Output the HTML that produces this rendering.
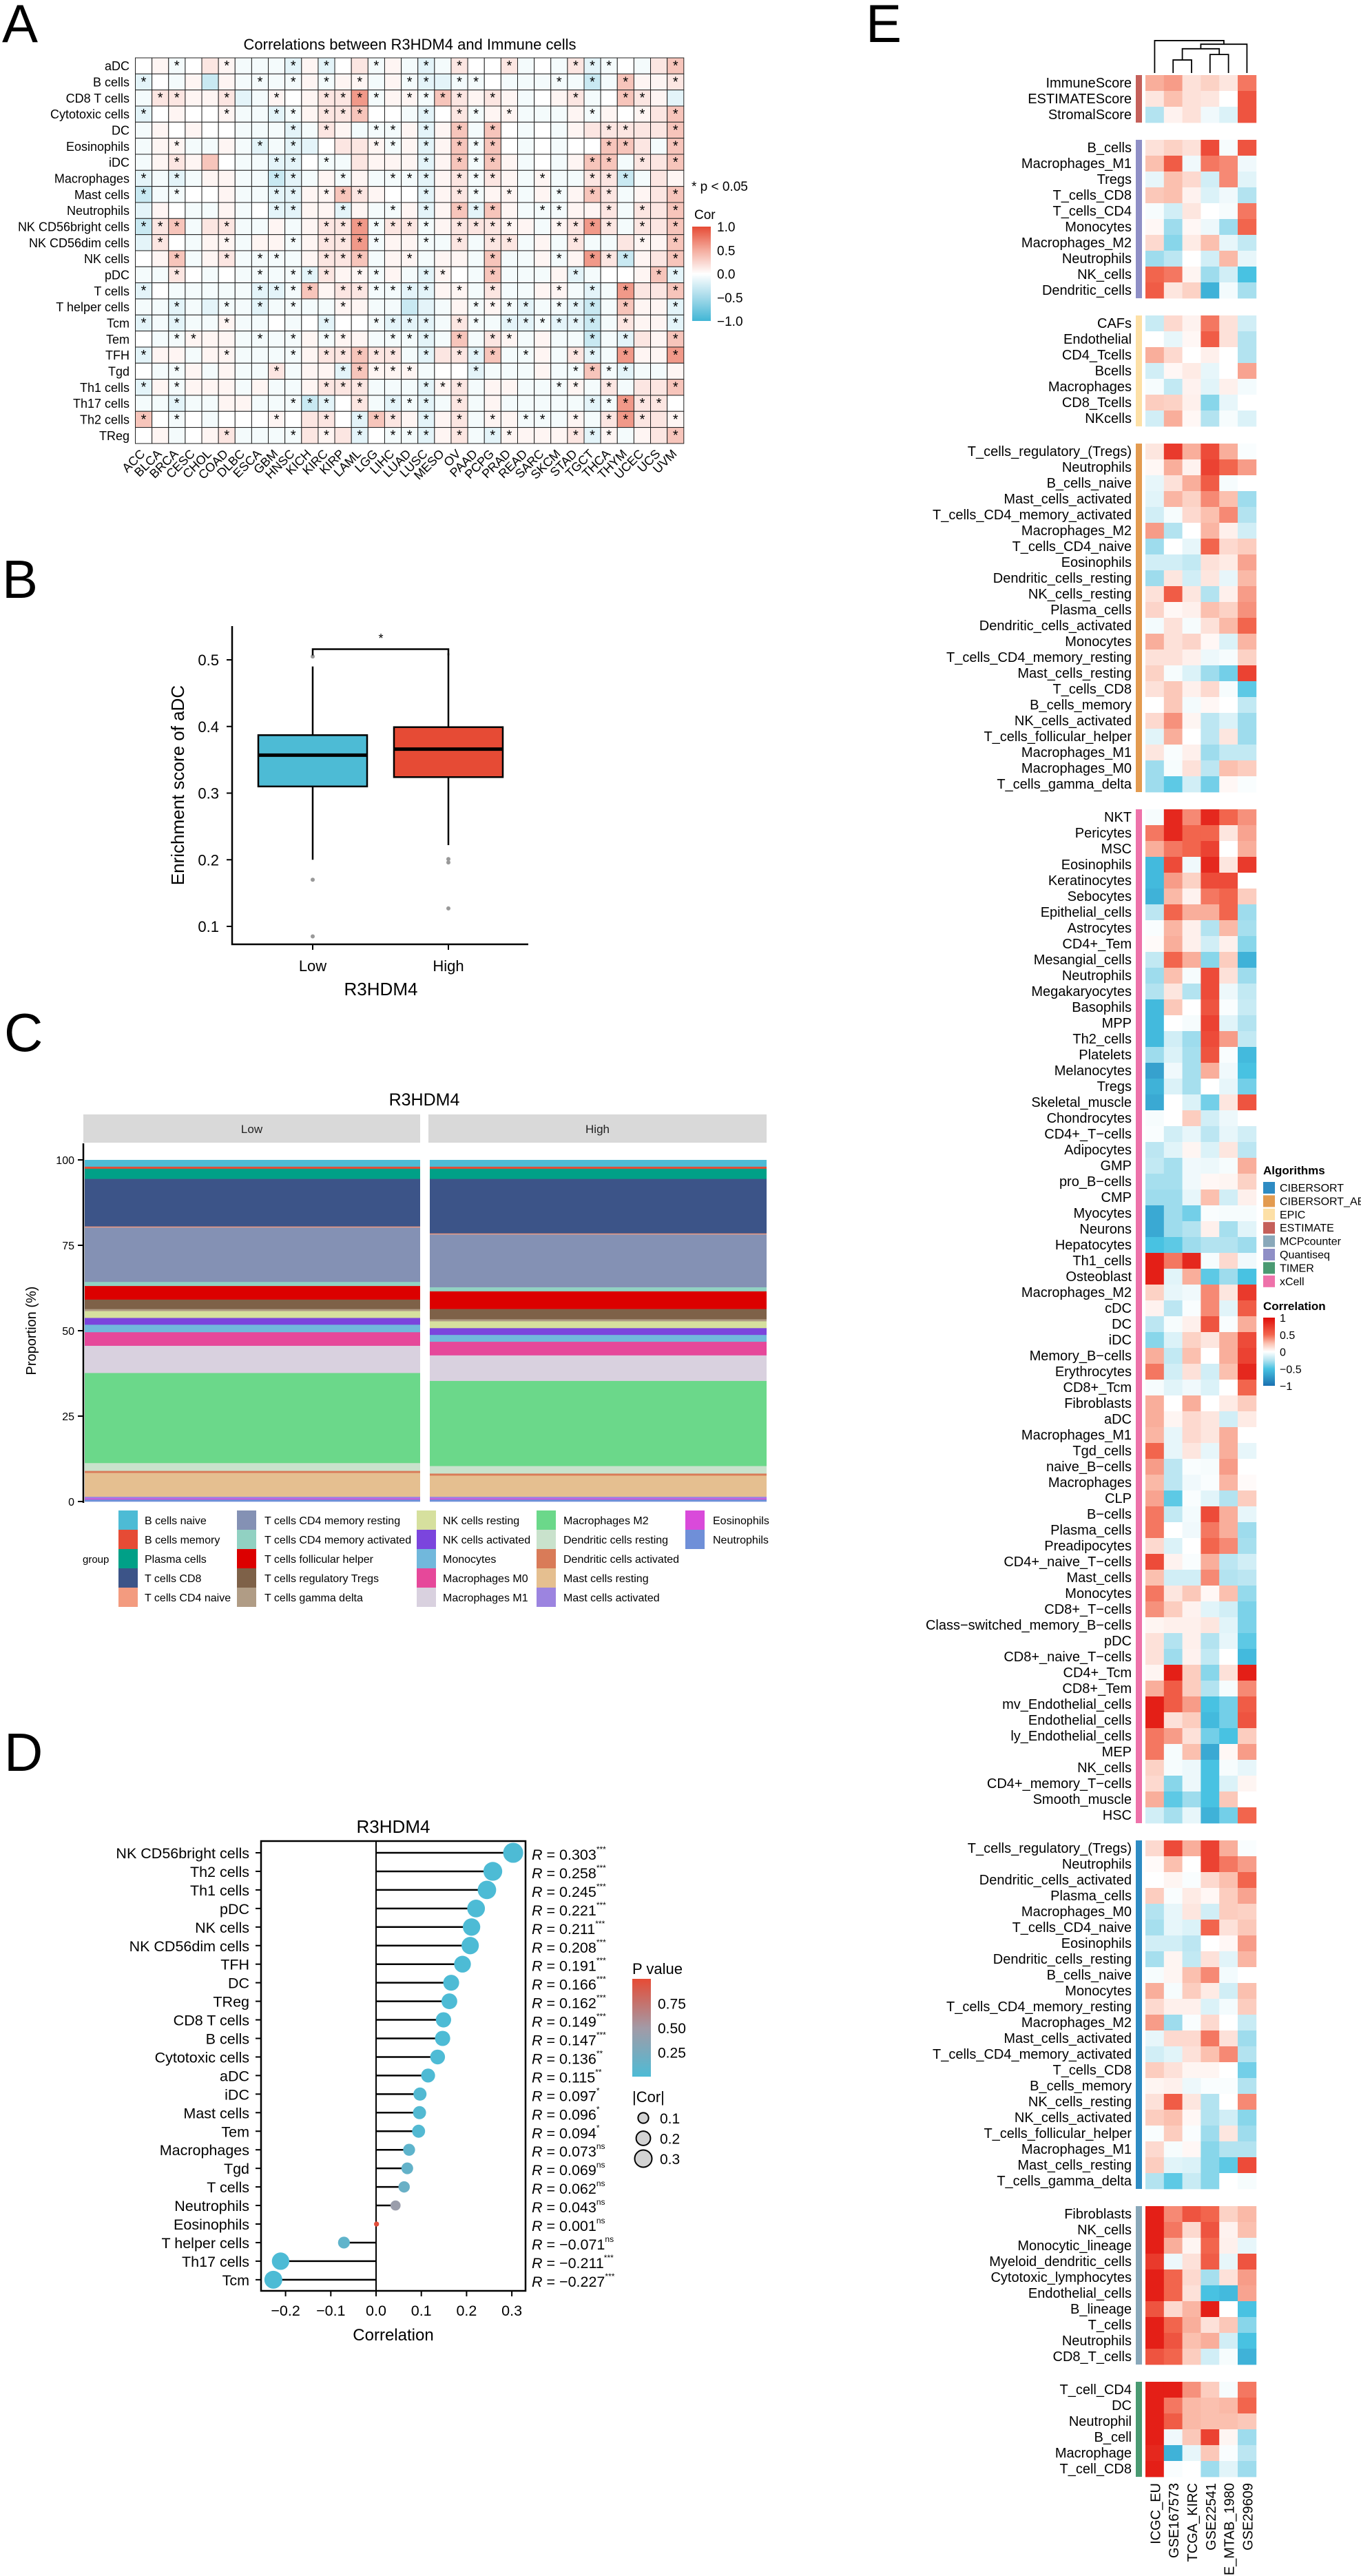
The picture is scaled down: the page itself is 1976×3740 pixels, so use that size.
<!DOCTYPE html>
<html><head><meta charset="utf-8"><style>
html,body{margin:0;padding:0;background:#fff}
svg{display:block;font-family:"Liberation Sans",Arial,sans-serif}
</style></head><body>
<svg id="fig" width="1976" height="3740" viewBox="0 0 1976 3740" xmlns="http://www.w3.org/2000/svg">
<rect x="0" y="0" width="1976" height="3740" fill="#fff"/>
<text x="3" y="61" font-size="78">A</text>
<text x="3" y="868" font-size="78">B</text>
<text x="6" y="1526" font-size="78">C</text>
<text x="6" y="2571" font-size="78">D</text>
<text x="1257" y="61" font-size="78">E</text>
<g id="pA"></g>
<g id="pB"></g>
<g id="pC"></g>
<g id="pD"></g>
<g id="pE"></g>
</svg>
<script>
// ---------- Panel A data ----------
const aCancers = ["ACC","BLCA","BRCA","CESC","CHOL","COAD","DLBC","ESCA","GBM","HNSC","KICH","KIRC","KIRP","LAML","LGG","LIHC","LUAD","LUSC","MESO","OV","PAAD","PCPG","PRAD","READ","SARC","SKCM","STAD","TGCT","THCA","THYM","UCEC","UCS","UVM"];
const aCells = ["aDC","B cells","CD8 T cells","Cytotoxic cells","DC","Eosinophils","iDC","Macrophages","Mast cells","Neutrophils","NK CD56bright cells","NK CD56dim cells","NK cells","pDC","T cells","T helper cells","Tcm","Tem","TFH","Tgd","Th1 cells","Th17 cells","Th2 cells","TReg"];
const aCodeValues = {R:0.6,r:0.35,p:0.15,q:0.06,"0":0,c:-0.06,b:-0.15,B:-0.3,D:-0.5};
const aCorCodes = [
"0qc0pqcccbqb0pcqcbcp00pc0cpbc0cpr","b0cqBqccccqcqqcqcbbcc0cccccBcrqqp","cppqqpbcq0qppRcqqcrpqpqc0qpc0rpqb","b0q00qccbcqppr00cb0pcqqcccqcq0qpr",
"cq0q00cccbcpqcccqbqrcr0c0cqpppppr","cqqccqcbcbb0ppqcqbqrcr0c0c00rrpcr","cqpqr0ccbb0ccpqqqbqrcrqc0cqrrcppr","bcbcqqccBbcqcqcccbqpcpqcqccppBcpq",
"Bcc00qccbbqqrpq00bqpcqqcqcqrpcqpr","bq0ccqc0bbqqbqccqbqrbrqcccqqpcppr","BprcppccqcqppRcppcqpppqqcqpRpcppr","bp0cqqcqqcqppRcqqccpcppcqcpccpqqr",
"0qrcqpccccqpprcqqcqqcrccqcqRpBqpr","ccp0c0ccccbpqqcqcbq0crcccqbc00qrb","b0cccccbbcrqppccbbqqcpccqqcbcRppr","ccbcbccbccccqqccBbcqcqcbccbBcrqqb",
"bcbccqcc0c0b00cbbbcpccbbcbbBcpqqb","0ccqqqccccqcqqcccbcrcpqcqccBcbpqr","bqqcqqccccqpprppcbppbrccqcpbcRqqR","0ccqcqccpcqqbrqqqc00bcccqccrcbccq",
"bqcqqqcqccqpppcccbqpcqqcccqcpcppr","ccbccqqcccBb0pcbcbcpcqcccccbcRpp0","r0c0c000q0pp0brpqbqpcqqcccqcpRppq","0qc0qpccccpqpb0ccbqpcbqqqqpbqcqpr"];
const aStars = [
[2,5,9,11,14,17,19,22,26,27,28,32],[0,7,9,11,13,16,17,19,20,25,27,29,32],[1,2,5,8,11,12,13,14,16,17,18,19,21,26,29,30],[0,5,8,9,11,12,13,17,19,20,22,27,30,32],
[9,11,14,15,17,19,21,28,29,32],[2,7,9,14,15,17,19,20,21,28,29,32],[2,8,9,11,17,19,20,21,27,28,30,32],[0,2,8,9,12,15,16,17,19,20,21,24,27,28,29],
[0,2,8,9,11,12,13,17,19,20,22,25,27,28,32],[8,9,12,15,17,19,20,21,24,25,28,30,32],[0,1,2,5,11,12,13,14,15,16,17,19,20,21,22,25,26,27,28,30,32],[1,5,9,11,12,13,14,17,19,21,22,26,30,32],
[2,5,7,8,11,12,13,16,21,25,27,28,29,32],[2,7,9,10,11,13,14,17,18,21,26,31,32],[0,7,8,9,10,12,13,14,15,16,17,19,21,25,27,29,32],[2,5,7,9,12,20,21,22,23,25,26,27,29,32],
[0,2,5,11,14,15,16,17,19,20,22,23,24,25,26,27,29,32],[2,3,7,9,11,12,15,16,17,19,21,22,27,29,32],[0,5,9,11,12,13,14,15,17,19,20,21,23,26,27,29,32],[2,8,12,13,14,15,16,20,26,27,28,29],
[0,2,11,12,13,17,18,19,25,26,28,32],[2,9,10,11,13,15,16,17,19,27,28,29,30,31],[0,2,8,11,13,14,15,17,19,21,23,24,26,28,29,30,32],[5,9,11,13,15,16,17,19,21,22,26,27,28,32]];
const aLegendTicks = [1.0,0.5,0.0,-0.5,-1.0];

// ---------- Panel B data ----------
const bGroups = ["Low","High"];
const bQ1 = [0.310,0.324];
const bMedian = [0.357,0.366];
const bQ3 = [0.387,0.399];
const bWhiskLo = [0.200,0.222];
const bWhiskHi = [0.490,0.510];
const bOutliers = [[0.505,0.170,0.085],[0.201,0.196,0.127]];
const bFills = ["#4DBBD5","#E64B35"];
const bYTicks = [0.1,0.2,0.3,0.4,0.5];

// ---------- Panel C data ----------
const cTypes = ["B cells naive","B cells memory","Plasma cells","T cells CD8","T cells CD4 naive","T cells CD4 memory resting","T cells CD4 memory activated","T cells follicular helper","T cells regulatory Tregs","T cells gamma delta","NK cells resting","NK cells activated","Monocytes","Macrophages M0","Macrophages M1","Macrophages M2","Dendritic cells resting","Dendritic cells activated","Mast cells resting","Mast cells activated","Eosinophils","Neutrophils"];
const cColors = ["#4DBBD5","#E64B35","#00A087","#3C5488","#F39B7F","#8491B4","#91D1C2","#DC0000","#7E6148","#B09C85","#D6E09E","#7B45DD","#71B8DC","#E6489A","#D9D1DF","#6BD88A","#C9E2CC","#D97B58","#E5BF90","#9C84E0","#D94ADA","#6F8FD8"];
const cLow =  [2.0,0.6,3.0,14.0,0.3,16.0,1.2,4.0,2.8,0.6,2.0,2.0,2.2,4.0,8.0,26.5,2.3,0.6,7.0,0.5,0.3,0.6];
const cHigh = [2.0,0.6,3.0,16.0,0.3,15.5,1.2,5.2,3.0,0.6,2.0,2.0,2.0,4.0,7.5,25.0,2.2,0.6,6.2,0.5,0.3,0.6];
const cYTicks = [0,25,50,75,100];

// ---------- Panel D data ----------
const dCells = ["NK CD56bright cells","Th2 cells","Th1 cells","pDC","NK cells","NK CD56dim cells","TFH","DC","TReg","CD8 T cells","B cells","Cytotoxic cells","aDC","iDC","Mast cells","Tem","Macrophages","Tgd","T cells","Neutrophils","Eosinophils","T helper cells","Th17 cells","Tcm"];
const dCor = [0.303,0.258,0.245,0.221,0.211,0.208,0.191,0.166,0.162,0.149,0.147,0.136,0.115,0.097,0.096,0.094,0.073,0.069,0.062,0.043,0.001,-0.071,-0.211,-0.227];
const dPval = [0.0001,0.0001,0.0001,0.0001,0.0001,0.0001,0.0001,0.0002,0.0003,0.0006,0.0007,0.003,0.008,0.03,0.03,0.035,0.10,0.13,0.16,0.45,0.98,0.11,0.0001,0.0001];
const dSig = ["***","***","***","***","***","***","***","***","***","***","***","**","**","*","*","*","ns","ns","ns","ns","ns","ns","***","***"];
const dXTicks = [-0.2,-0.1,0.0,0.1,0.2,0.3];
const dPTicks = [0.25,0.50,0.75];
const dSizeTicks = [0.1,0.2,0.3];

// ---------- Panel E data ----------
const eColumns = ["ICGC_EU","GSE167573","TCGA_KIRC","GSE22541","E_MTAB_1980","GSE29609"];
const eGroupAlgo = ["ESTIMATE","Quantiseq","EPIC","CIBERSORT_ABS","xCell","CIBERSORT","MCPcounter","TIMER"];
const eAlgoNames = ["CIBERSORT","CIBERSORT_ABS","EPIC","ESTIMATE","MCPcounter","Quantiseq","TIMER","xCell"];
const eAlgoColors = ["#2E8BC3","#E39B50","#FDE0A6","#C5605A","#89A8BA","#8F8FC6","#4A9A72","#EE72AA"];
const eCorTicks = [1,0.5,0,-0.5,-1];
const estimateRows = ["ImmuneScore","ESTIMATEScore","StromalScore"];
const estimateVals = [[.3,.35,.12,.18,.1,.45],[.1,.25,.12,.1,0,.6],[-.25,.05,.12,-.05,-.12,.6]];
const quantiseqRows = ["B_cells","Macrophages_M1","Tregs","T_cells_CD8","T_cells_CD4","Monocytes","Macrophages_M2","Neutrophils","NK_cells","Dendritic_cells"];
const quantiseqVals = [[.12,.18,.12,.65,-.03,.6],[.25,.55,-.05,.45,.4,-.05],[-.08,.25,.15,-.15,.4,-.1],[.22,.25,.05,-.12,-.05,-.25],[-.03,-.15,.1,0,-.03,.45],[.03,-.3,.03,-.06,-.3,.5],[.15,-.35,.08,.25,-.08,-.2],[-.3,-.22,0,-.15,.27,-.08],[.5,.45,.04,-.3,-.15,-.5],[.55,.1,.18,-.6,-.04,-.28]];
const epicRows = ["CAFs","Endothelial","CD4_Tcells","Bcells","Macrophages","CD8_Tcells","NKcells"];
const epicVals = [[-.18,.15,.05,.45,.12,-.15],[0,-.08,.03,.55,.12,-.25],[.3,.15,0,.06,0,-.25],[-.15,.03,.08,-.08,0,.33],[-.03,-.2,.05,-.1,.06,-.04],[.2,.18,.06,-.35,-.08,0],[-.15,.3,.03,-.25,-.03,-.12]];
const ciberAbsRows = ["T_cells_regulatory_(Tregs)","Neutrophils","B_cells_naive","Mast_cells_activated","T_cells_CD4_memory_activated","Macrophages_M2","T_cells_CD4_naive","Eosinophils","Dendritic_cells_resting","NK_cells_resting","Plasma_cells","Dendritic_cells_activated","Monocytes","T_cells_CD4_memory_resting","Mast_cells_resting","T_cells_CD8","B_cells_memory","NK_cells_activated","T_cells_follicular_helper","Macrophages_M1","Macrophages_M0","T_cells_gamma_delta"];
const ciberAbsVals = [[.1,.75,.3,.65,.3,-.02],[.03,.3,.05,.7,.5,.35],[-.08,.12,.3,.55,-.03,0],[-.1,.28,.18,.4,.25,-.3],[-.15,-.03,.15,.25,.4,-.25],[.35,-.25,0,.28,.06,-.15],[-.3,0,-.08,.5,.15,.2],[-.15,-.15,-.2,.12,.08,.33],[-.3,.1,-.15,.1,-.08,.27],[.12,.55,.1,-.25,.06,.35],[.17,.03,.06,.25,.18,.38],[-.04,.12,-.03,.12,.27,.5],[.3,.12,.17,.03,-.12,.28],[.12,.12,.06,-.06,-.03,.18],[.18,-.03,-.12,-.3,-.4,.7],[.12,.22,.06,.15,-.03,-.45],[0,.22,-.04,.03,0,-.2],[.15,.38,.04,-.22,-.12,-.3],[-.1,.3,0,-.22,.1,-.3],[.1,-.02,.06,-.3,-.2,-.2],[-.3,-.03,.12,-.22,.25,.2],[-.3,-.45,-.15,-.4,.03,-.02]];
const xcellRows = ["NKT","Pericytes","MSC","Eosinophils","Keratinocytes","Sebocytes","Epithelial_cells","Astrocytes","CD4+_Tem","Mesangial_cells","Neutrophils","Megakaryocytes","Basophils","MPP","Th2_cells","Platelets","Melanocytes","Tregs","Skeletal_muscle","Chondrocytes","CD4+_T\u2212cells","Adipocytes","GMP","pro_B\u2212cells","CMP","Myocytes","Neurons","Hepatocytes","Th1_cells","Osteoblast","Macrophages_M2","cDC","DC","iDC","Memory_B\u2212cells","Erythrocytes","CD8+_Tcm","Fibroblasts","aDC","Macrophages_M1","Tgd_cells","naive_B\u2212cells","Macrophages","CLP","B\u2212cells","Plasma_cells","Preadipocytes","CD4+_naive_T\u2212cells","Mast_cells","Monocytes","CD8+_T\u2212cells","Class\u2212switched_memory_B\u2212cells","pDC","CD8+_naive_T\u2212cells","CD4+_Tcm","CD8+_Tem","mv_Endothelial_cells","Endothelial_cells","ly_Endothelial_cells","MEP","NK_cells","CD4+_memory_T\u2212cells","Smooth_muscle","HSC"];
const xcellVals = [[-.03,.85,.4,.85,.5,.38],[.45,.85,.5,.5,.1,.33],[.3,.45,.5,.7,0,.3],[-.55,.65,-.05,.85,.1,.75],[-.55,.35,.18,.65,.65,0],[-.6,.27,.05,.45,.5,.2],[-.22,.5,.3,.3,.5,-.3],[-.02,.28,.06,-.25,.27,-.28],[.02,.3,.06,-.15,.06,-.35],[-.2,.5,.3,-.35,.2,-.6],[-.3,.25,-.03,.65,.12,-.3],[-.25,.1,-.25,.65,-.06,-.2],[-.55,.22,0,.6,-.02,-.18],[-.55,0,-.03,.7,-.1,-.25],[-.55,-.15,-.3,.65,.35,-.2],[-.3,-.12,-.28,.6,-.02,-.55],[-.7,-.05,-.28,.3,-.05,-.5],[-.6,-.12,-.28,0,-.08,-.4],[-.65,0,-.12,-.4,.1,.6],[-.03,0,.2,-.15,-.06,0],[-.02,-.15,-.08,-.22,-.08,-.15],[-.22,-.1,.04,-.12,.1,-.22],[-.2,-.28,-.05,-.06,-.03,.3],[-.28,-.28,-.05,.03,.04,.18],[-.3,-.3,-.08,.25,-.15,.06],[-.65,-.3,-.4,-.02,-.03,-.03],[-.65,-.3,-.25,.06,-.28,-.1],[-.5,-.45,-.3,-.25,-.25,-.3],[.9,.45,.85,-.03,.15,-.05],[.9,-.1,.3,-.45,-.3,-.5],[.18,-.08,-.05,.4,.1,.75],[.05,-.22,-.02,.4,-.1,.55],[-.22,-.03,.06,.6,-.02,.3],[-.35,-.12,.18,.1,.3,.65],[.3,-.2,.25,0,.3,.7],[.45,-.15,.12,-.15,.25,.85],[-.03,-.1,-.05,-.12,0,.5],[.3,0,.3,0,.08,.2],[.3,.04,.15,.1,-.15,.08],[.28,-.08,.15,.1,.3,0],[.5,-.08,.1,-.08,.3,-.08],[.35,-.22,-.02,-.03,.35,0],[.27,-.22,-.05,-.02,.28,.02],[.33,-.45,-.02,-.1,-.25,.2],[.45,-.2,-.04,.65,.3,-.08],[.45,0,-.05,.45,.3,-.3],[.15,-.12,0,.5,.4,-.28],[.65,.05,-.02,.3,-.22,-.15],[.25,-.15,-.15,.4,-.25,-.22],[.45,.1,.22,.03,.25,-.32],[.38,.2,.05,-.1,-.15,-.38],[.04,.06,.06,.1,-.1,-.38],[.12,-.25,.06,-.25,-.08,-.45],[.12,-.3,.05,-.2,0,-.55],[.04,.9,.2,-.35,.12,.9],[.3,.55,.2,-.25,-.03,.4],[.9,.55,.35,-.5,-.4,.55],[.9,.12,.2,-.55,-.4,.6],[.45,.35,.12,-.4,-.5,.2],[.45,-.03,.25,-.65,.03,.35],[.18,-.03,-.06,-.5,-.03,-.08],[.15,-.35,-.06,-.5,-.12,.04],[.3,-.45,-.3,-.5,.22,0],[-.15,-.28,-.08,-.6,-.4,.5]];
const ciberRows = ["T_cells_regulatory_(Tregs)","Neutrophils","Dendritic_cells_activated","Plasma_cells","Macrophages_M0","T_cells_CD4_naive","Eosinophils","Dendritic_cells_resting","B_cells_naive","Monocytes","T_cells_CD4_memory_resting","Macrophages_M2","Mast_cells_activated","T_cells_CD4_memory_activated","T_cells_CD8","B_cells_memory","NK_cells_resting","NK_cells_activated","T_cells_follicular_helper","Macrophages_M1","Mast_cells_resting","T_cells_gamma_delta"];
const ciberVals = [[.15,.65,.3,.7,.3,-.02],[.02,.25,0,.7,.45,.35],[0,.04,-.02,.15,.25,.5],[.2,-.02,.08,.03,.2,.33],[-.25,-.08,.1,-.15,.2,.18],[-.28,-.08,-.12,.5,.12,.22],[-.15,-.15,-.22,0,.03,.35],[-.28,.04,-.2,.12,-.1,.28],[-.03,.04,.25,.4,-.04,0],[.3,-.03,.2,.08,-.15,.25],[.15,.06,.06,-.12,-.04,.2],[.35,-.3,-.02,.15,0,-.18],[-.08,.15,.15,.45,.12,-.3],[-.15,-.1,.12,.25,.4,-.25],[.2,.12,.04,.04,0,-.4],[.04,.06,-.06,-.02,-.02,-.25],[.12,.55,.1,-.25,0,.4],[.2,.25,.03,-.25,-.15,-.35],[-.02,.2,-.02,-.3,.1,-.3],[.15,-.03,.03,-.35,-.25,-.25],[.2,-.1,-.12,-.35,-.45,.65],[-.25,-.45,-.18,-.35,0,-.03]];
const mcpRows = ["Fibroblasts","NK_cells","Monocytic_lineage","Myeloid_dendritic_cells","Cytotoxic_lymphocytes","Endothelial_cells","B_lineage","T_cells","Neutrophils","CD8_T_cells"];
const mcpVals = [[.9,.4,.6,.5,.18,.27],[.9,.45,.15,.6,.05,.25],[.9,.3,.04,.5,.06,-.08],[.75,-.06,.12,.55,-.08,.6],[.9,.5,.15,-.28,.12,.35],[.9,.5,.12,-.5,-.55,.33],[.6,.15,.28,.9,0,-.5],[.9,.5,.3,.12,.22,-.35],[.9,.6,.25,.3,-.15,-.5],[.6,.5,.2,-.15,-.03,-.6]];
const timerRows = ["T_cell_CD4","DC","Neutrophil","B_cell","Macrophage","T_cell_CD8"];
const timerVals = [[.9,.9,.38,.2,-.03,.45],[.9,.45,.27,.25,.27,.5],[.9,.55,.27,.25,.25,.22],[.9,-.05,.22,.7,.04,-.3],[.85,-.6,-.08,.22,-.02,-.22],[.9,-.02,0,-.3,-.1,-.3]];
const eDendroMerges = [[1,2,0.43],[3,4,0.61],[6,7,0.80],[8,5,0.95],[0,9,1.07]];

// ---------- helpers ----------
const svg = document.getElementById('fig');
const SNS = svg.namespaceURI;
function mk(tag, attrs, parent, text){
  const e = document.createElementNS(SNS, tag);
  for (const k in attrs) e.setAttribute(k, attrs[k]);
  if (text !== undefined) e.textContent = text;
  parent.appendChild(e);
  return e;
}
function hex2rgb(h){return [parseInt(h.slice(1,3),16),parseInt(h.slice(3,5),16),parseInt(h.slice(5,7),16)];}
function scaleColor(v, stops){
  if (v <= stops[0][0]) return stops[0][1];
  for (let i=1;i<stops.length;i++){
    if (v <= stops[i][0]){
      const t=(v-stops[i-1][0])/(stops[i][0]-stops[i-1][0]);
      const a=hex2rgb(stops[i-1][1]), b=hex2rgb(stops[i][1]);
      return 'rgb('+a.map((x,j)=>Math.round(x+(b[j]-x)*t)).join(',')+')';
    }
  }
  return stops[stops.length-1][1];
}
const aStops = [[-1,"#41B6D5"],[-0.5,"#A5DAEA"],[0,"#FFFFFF"],[0.5,"#F4AC9E"],[1,"#E64B35"]];
const eStops = [[-1,"#1A70B0"],[-0.5,"#48C2E2"],[-0.25,"#B3E3F0"],[0,"#FFFFFF"],[0.25,"#FBC0AF"],[0.5,"#F2654D"],[1,"#E00E0A"]];
const pStops = [[0,"#4DBBD5"],[0.5,"#A39AA6"],[1,"#E64B35"]];

// ================= Panel A =================
(function(){
  const g = document.getElementById('pA');
  const x0=196.5, y0=84, cw=24.13, ch=23.33;
  const xA = i => x0 + i*cw;
  const yA = j => y0 + j*ch;
  const t = mk('text',{x:595,y:72,'font-size':22,'text-anchor':'middle'},g,'Correlations between R3HDM4 and Immune cells');
  
  
  aCells.forEach((cell,j)=>{
    const codes = aCorCodes[j];
    aCancers.forEach((can,i)=>{
      const v = aCodeValues[codes[i]] || 0;
      const r = mk('rect',{x:xA(i),y:yA(j),width:cw,height:ch,fill:scaleColor(v,aStops),stroke:'#222','stroke-width':1},g);
      
      
    });
    aStars[j].forEach(i=>{
      const s = mk('text',{x:xA(i)+cw/2,y:yA(j)+18,'font-size':20,'text-anchor':'middle'},g,'*');
      
      
    });
    const lb = mk('text',{x:188,y:yA(j)+ch/2+6.5,'font-size':18,'text-anchor':'end'},g,cell);
    
    
  });
  aCancers.forEach((can,i)=>{
    const cx = xA(i)+cw/2+3, cy=660;
    const lb = mk('text',{x:cx,y:cy,'font-size':18,'text-anchor':'end',transform:'rotate(-45 '+cx+' '+cy+')'},g,can);
    
    
  });
  const p = mk('text',{x:1004,y:277,'font-size':19},g,'* p < 0.05');
  
  
  const lt = mk('text',{x:1008,y:318,'font-size':19},g,'Cor');
  
  
  const defs = mk('defs',{},g);
  const lg = mk('linearGradient',{id:'aGrad',x1:0,y1:0,x2:0,y2:1},defs);
  aLegendTicks.forEach((v,k)=>{ mk('stop',{offset:(k/(aLegendTicks.length-1)),'stop-color':scaleColor(v,aStops)},lg); });
  const lbTop=329, lbBot=466;
  const yL = v => lbTop + (1-v)/2*(lbBot-lbTop);
  const bar = mk('rect',{x:1005,y:lbTop,width:27,height:lbBot-lbTop,fill:'url(#aGrad)'},g);
  
  
  aLegendTicks.forEach(v=>{
    const tx = mk('text',{x:1041,y:yL(v)+7,'font-size':19},g,(v<0?'\u2212':'')+Math.abs(v).toFixed(1));
    
    
  });
})();

// ================= Panel B =================
(function(){
  const g = document.getElementById('pB');
  const L=337, R=767, T=909, B=1371;
  const yB = v => 958 + (0.5 - v)*967.5;
  const xB = [454,651];
  const hw = 79;
  const ax = mk('path',{d:'M'+L+' '+T+' V'+B+' H'+R,fill:'none',stroke:'#000','stroke-width':2.5},g);
  
  
  bYTicks.forEach(v=>{
    const tk = mk('line',{x1:L-8,x2:L,y1:yB(v),y2:yB(v),stroke:'#000','stroke-width':2},g);
    
    
    const tl = mk('text',{x:318,y:yB(v)+8,'font-size':22,'text-anchor':'end'},g,v.toFixed(1));
    
    
  });
  bGroups.forEach((gr,i)=>{
    const cx = xB[i];
    const w = mk('line',{x1:cx,x2:cx,y1:yB(bWhiskHi[i]),y2:yB(bWhiskLo[i]),stroke:'#000','stroke-width':2.5},g);
    
    
    const bx = mk('rect',{x:cx-hw,y:yB(bQ3[i]),width:2*hw,height:yB(bQ1[i])-yB(bQ3[i]),fill:bFills[i],stroke:'#000','stroke-width':2.5},g);
    
    
    const md = mk('line',{x1:cx-hw,x2:cx+hw,y1:yB(bMedian[i]),y2:yB(bMedian[i]),stroke:'#000','stroke-width':5},g);
    
    
    bOutliers[i].forEach(o=>{
      const c = mk('circle',{cx:cx,cy:yB(o),r:3,fill:'#999'},g);
      
      
    });
    const tk = mk('line',{x1:cx,x2:cx,y1:B,y2:B+8,stroke:'#000','stroke-width':2},g);
    
    
    const tl = mk('text',{x:cx,y:1410,'font-size':22,'text-anchor':'middle'},g,gr);
    
    
  });
  const br = mk('path',{d:'M'+xB[0]+' '+(yB(0.516)+9)+' V'+yB(0.516)+' H'+xB[1]+' V'+(yB(0.516)+9),fill:'none',stroke:'#000','stroke-width':2.5},g);
  
  
  const st = mk('text',{x:553,y:933,'font-size':18,'text-anchor':'middle'},g,'*');
  
  
  const xt = mk('text',{x:553,y:1445,'font-size':26,'text-anchor':'middle'},g,'R3HDM4');
  
  
  const yt = mk('text',{x:267,y:1140,'font-size':26,'text-anchor':'middle',transform:'rotate(-90 267 1140)'},g,'Enrichment score of aDC');
  
  
})();

// ================= Panel C =================
(function(){
  const g = document.getElementById('pC');
  const yC = v => 2180 - v*4.96;
  const panels = [{name:'Low',x0:121,x1:610,vals:cLow},{name:'High',x0:622,x1:1113,vals:cHigh}];
  const tt = mk('text',{x:616,y:1605,'font-size':25,'text-anchor':'middle'},g,'R3HDM4');
  
  
  panels.forEach(p=>{
    const sr = mk('rect',{x:p.x0,y:1618,width:p.x1-p.x0,height:41,fill:'#D9D9D9'},g);
    
    
    const sl = mk('text',{x:(p.x0+p.x1)/2,y:1645,'font-size':17,'text-anchor':'middle',fill:'#222'},g,p.name);
    
    
    const total = p.vals.reduce((a,b)=>a+b,0);
    let cum = 100;
    p.vals.forEach((v,k)=>{
      const h = v/total*100;
      const r = mk('rect',{x:p.x0+2,y:yC(cum),width:p.x1-p.x0-2,height:yC(cum-h)-yC(cum)+0.3,fill:cColors[k]},g);
      
      
      cum -= h;
    });
  });
  const ax = mk('line',{x1:121,x2:121,y1:1660,y2:2182,stroke:'#000','stroke-width':2.5},g);
  
  
  cYTicks.forEach(v=>{
    const tk = mk('line',{x1:113,x2:121,y1:yC(v),y2:yC(v),stroke:'#000','stroke-width':2},g);
    
    
    const tl = mk('text',{x:108,y:yC(v)+6,'font-size':16,'text-anchor':'end'},g,String(v));
    
    
  });
  const yt = mk('text',{x:52,y:1932,'font-size':20,'text-anchor':'middle',transform:'rotate(-90 52 1932)'},g,'Proportion (%)');
  
  
  const gl = mk('text',{x:120,y:2269,'font-size':15},g,'group');
  
  
  const bxX=[172,344,605,779,995], txX=[210,384,643,818,1035];
  cTypes.forEach((name,k)=>{
    const col = Math.floor(k/5), row = k%5;
    const y = 2193 + row*28;
    const b = mk('rect',{x:bxX[col],y:y,width:28,height:28,fill:cColors[k]},g);
    
    
    const t = mk('text',{x:txX[col],y:y+20,'font-size':16},g,name);
    
    
  });
})();

// ================= Panel D =================
(function(){
  const g = document.getElementById('pD');
  const L=379, R=763, T=2673, B=3326;
  const xD = v => 546 + v*657;
  const yD = i => 2690 + i*26.95;
  const rD = c => 3 + 21*Math.sqrt(Math.abs(c));
  const tt = mk('text',{x:571,y:2661,'font-size':26,'text-anchor':'middle'},g,'R3HDM4');
  
  
  const bx = mk('rect',{x:L,y:T,width:R-L,height:B-T,fill:'none',stroke:'#000','stroke-width':2.5},g);
  
  
  const zl = mk('line',{x1:xD(0),x2:xD(0),y1:T,y2:B,stroke:'#000','stroke-width':2},g);
  
  
  dCells.forEach((c,i)=>{
    const y = yD(i);
    const sg = mk('line',{x1:xD(0),x2:xD(dCor[i]),y1:y,y2:y,stroke:'#000','stroke-width':2.5},g);
    
    
    const dot = mk('circle',{cx:xD(dCor[i]),cy:y,r:rD(dCor[i]),fill:scaleColor(dPval[i],pStops)},g);
    
    
    const tk = mk('line',{x1:L-8,x2:L,y1:y,y2:y,stroke:'#000','stroke-width':2},g);
    
    
    const lb = mk('text',{x:362,y:y+8,'font-size':21.5,'text-anchor':'end'},g,c);
    
    
    const rt = mk('text',{x:772,y:y+10,'font-size':21.5},g);
    
    
    mk('tspan',{'font-style':'italic'},rt,'R');
    mk('tspan',{},rt,' = '+(dCor[i]<0?'\u2212':'')+Math.abs(dCor[i]).toFixed(3));
    mk('tspan',{'font-size':12,dy:-11},rt,dSig[i]);
  });
  dXTicks.forEach(v=>{
    const tk = mk('line',{x1:xD(v),x2:xD(v),y1:B,y2:B+8,stroke:'#000','stroke-width':2},g);
    
    
    const tl = mk('text',{x:xD(v),y:3362,'font-size':21.5,'text-anchor':'middle'},g,(v<0?'\u2212':'')+Math.abs(v).toFixed(1));
    
    
  });
  const xt = mk('text',{x:571,y:3398,'font-size':24,'text-anchor':'middle'},g,'Correlation');
  
  
  // legends
  const pt = mk('text',{x:918,y:2866,'font-size':22},g,'P value');
  
  
  const defs = mk('defs',{},g);
  const lg = mk('linearGradient',{id:'pGrad',x1:0,y1:0,x2:0,y2:1},defs);
  mk('stop',{offset:0,'stop-color':scaleColor(1,pStops)},lg);
  mk('stop',{offset:0.5,'stop-color':scaleColor(0.5,pStops)},lg);
  mk('stop',{offset:1,'stop-color':scaleColor(0,pStops)},lg);
  const pY = p => 3015 - p*142;
  const cb = mk('rect',{x:918,y:pY(1),width:27,height:142,fill:'url(#pGrad)'},g);
  
  
  dPTicks.forEach(p=>{
    const tl = mk('text',{x:955,y:pY(p)+8,'font-size':21},g,p.toFixed(2));
    
    
  });
  const ct = mk('text',{x:918,y:3052,'font-size':22},g,'|Cor|');
  
  
  dSizeTicks.forEach((s,k)=>{
    const y = 3075 + k*29.5;
    const c = mk('circle',{cx:934,cy:y,r:rD(s)-2,fill:'#D3D3D3',stroke:'#000','stroke-width':2},g);
    
    
    const tl = mk('text',{x:958,y:y+8,'font-size':21},g,s.toFixed(1));
    
    
  });
})();

// ================= Panel E =================
(function(){
  const g = document.getElementById('pE');
  const groups = [[estimateRows,estimateVals],[quantiseqRows,quantiseqVals],[epicRows,epicVals],[ciberAbsRows,ciberAbsVals],[xcellRows,xcellVals],[ciberRows,ciberVals],[mcpRows,mcpVals],[timerRows,timerVals]];
  const x0=1663, cw=26.8, rh=23, gap=25;
  const xE = i => x0 + i*cw;
  let y = 109;
  groups.forEach((gr,gi)=>{
    const rows = gr[0], vals = gr[1];
    const col = eAlgoColors[eAlgoNames.indexOf(eGroupAlgo[gi])];
    const ab = mk('rect',{x:1649,y:y,width:9,height:rows.length*rh,fill:col},g);
    
    
    rows.forEach((name,r)=>{
      const yy = y + r*rh;
      vals[r].forEach((v,c)=>{
        const cell = mk('rect',{x:xE(c),y:yy,width:cw+0.4,height:rh+0.4,fill:scaleColor(v,eStops)},g);
        
        
      });
      const lb = mk('text',{x:1643,y:yy+18,'font-size':20,'text-anchor':'end'},g,name);
      
      
    });
    y += rows.length*rh + gap;
  });
  eColumns.forEach((c,i)=>{
    const cx = xE(i)+cw/2+8, cy=3605;
    const lb = mk('text',{x:cx,y:cy,'font-size':20,'text-anchor':'end',transform:'rotate(-90 '+cx+' '+cy+')'},g,c);
    
    
  });
  // dendrogram
  const nodeX = eColumns.map((c,i)=>xE(i)+cw/2);
  const nodeY = eColumns.map(()=>106);
  const dY = h => 106 - h*44;
  eDendroMerges.forEach(m=>{
    const a=m[0], b=m[1], hy=dY(m[2]);
    const p = mk('path',{d:'M'+nodeX[a]+' '+nodeY[a]+' V'+hy+' H'+nodeX[b]+' V'+nodeY[b],fill:'none',stroke:'#000','stroke-width':1.8},g);
    
    
    nodeX.push((nodeX[a]+nodeX[b])/2);
    nodeY.push(hy);
  });
  // legends
  const at = mk('text',{x:1834,y:1705,'font-size':17,'font-weight':'bold'},g,'Algorithms');
  
  
  eAlgoNames.forEach((n,k)=>{
    const yy = 1716 + k*19.4;
    const b = mk('rect',{x:1834,y:yy,width:17,height:17,fill:eAlgoColors[k]},g);
    
    
    const t = mk('text',{x:1858,y:yy+14,'font-size':16},g,n);
    
    
  });
  const ctt = mk('text',{x:1834,y:1902,'font-size':17,'font-weight':'bold'},g,'Correlation');
  
  
  const defs = mk('defs',{},g);
  const lg = mk('linearGradient',{id:'eGrad',x1:0,y1:0,x2:0,y2:1},defs);
  for (let k=0;k<=8;k++){ const v=1-k*0.25; mk('stop',{offset:k/8,'stop-color':scaleColor(v,eStops)},lg); }
  const cTop=1913, cBot=2012;
  const yEc = v => cTop + (1-v)/2*(cBot-cTop);
  const bar = mk('rect',{x:1834,y:cTop,width:17,height:cBot-cTop,fill:'url(#eGrad)'},g);
  
  
  eCorTicks.forEach(v=>{
    const t = mk('text',{x:1858,y:yEc(v)+6,'font-size':16},g,(v<0?'\u2212':'')+Math.abs(v));
    
    
  });
})();
</script>
</body></html>
